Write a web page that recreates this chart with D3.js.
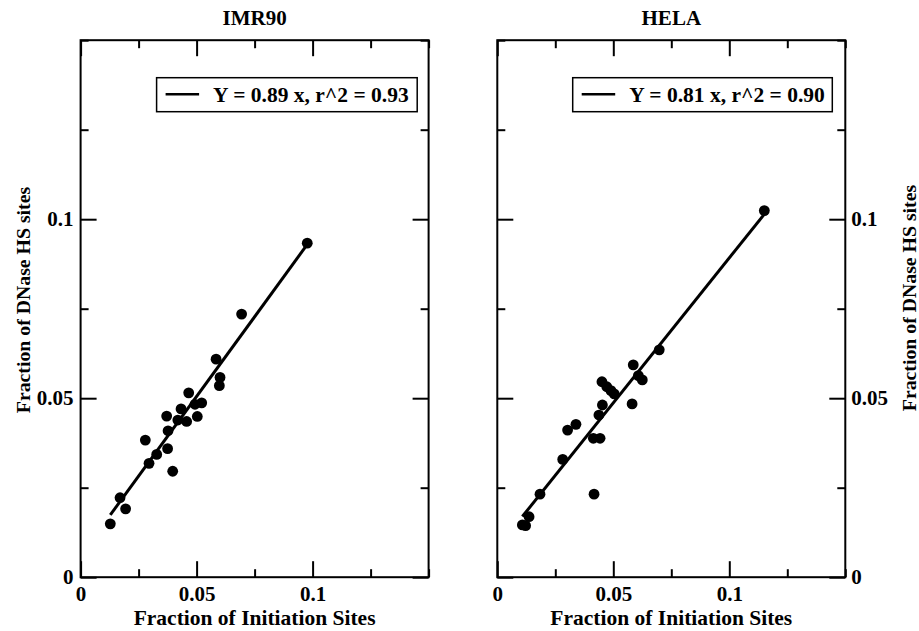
<!DOCTYPE html>
<html>
<head>
<meta charset="utf-8">
<script src="https://cdn.jsdelivr.net/npm/d3@7"></script>
<style>
  html, body { margin: 0; padding: 0; background: #fff; }
  svg text { font-family: "Liberation Serif", "Times New Roman", serif; font-weight: bold; fill: #000; }
</style>
</head>
<body>
<svg id="chart" width="919" height="631"></svg>
<script>
// IMR90: fraction of initiation sites (x) vs fraction of DNase HS sites (y)
const imrX = [0.0694, 0.0584, 0.0601, 0.0598, 0.0466, 0.0522, 0.0493, 0.0433, 0.0371, 0.0503, 0.0419,
              0.0457, 0.0377, 0.0279, 0.0375, 0.0328, 0.0295, 0.0397, 0.0170, 0.0194, 0.0128, 0.0977];
const imrY = [0.0735, 0.0609, 0.0558, 0.0535, 0.0515, 0.0487, 0.0483, 0.0470, 0.0450, 0.0449, 0.0439,
              0.0435, 0.0409, 0.0383, 0.0359, 0.0343, 0.0318, 0.0296, 0.0222, 0.0191, 0.0149, 0.0933];
const imrSlope = 0.89, imrIntercept = 0.006, imrR2 = 0.93;

// HELA
const helaX = [0.1151, 0.0698, 0.0586, 0.0625, 0.0608, 0.0451, 0.0472, 0.0490, 0.0504, 0.0581, 0.0453,
               0.0438, 0.0339, 0.0303, 0.0414, 0.0443, 0.0282, 0.0184, 0.0417, 0.0137, 0.0108, 0.0122];
const helaY = [0.1024, 0.0635, 0.0593, 0.0551, 0.0563, 0.0546, 0.0532, 0.0521, 0.0512, 0.0484, 0.0481,
               0.0453, 0.0427, 0.0411, 0.0388, 0.0388, 0.0329, 0.0232, 0.0232, 0.0169, 0.0146, 0.0144];
const helaSlope = 0.81, helaIntercept = 0.0082, helaR2 = 0.90;

const panelTitles = ["IMR90", "HELA"];
const xTitle = "Fraction of Initiation Sites";
const yTitle = "Fraction of DNase HS sites";
const tickValues = [0, 0.025, 0.05, 0.075, 0.1, 0.125, 0.15];
const majorTicks = [0, 0.05, 0.1];
const tickLabels = ["0", "0.05", "0.1"];

const svg = d3.select("#chart");
const W = 348, H = 537;

const panels = [
  { left: 80.6, top: 40.2, title: panelTitles[0], xs: imrX, ys: imrY, slope: imrSlope, b: imrIntercept, r2: imrR2,
    yLabelsRight: false, legendX: 76, legendW: 260.6, yTitleX: 30, yTitleY: 300 },
  { left: 497.3, top: 40.2, title: panelTitles[1], xs: helaX, ys: helaY, slope: helaSlope, b: helaIntercept, r2: helaR2,
    yLabelsRight: true, legendX: 75.4, legendW: 259.6, yTitleX: 916, yTitleY: 298 }
];

const isMajor = v => majorTicks.some(m => Math.abs(m - v) < 1e-9);
const fmt = v => { const i = majorTicks.findIndex(m => Math.abs(m - v) < 1e-9); return i >= 0 ? tickLabels[i] : ""; };

panels.forEach(p => {
  const g = svg.append("g").attr("transform", `translate(${p.left},${p.top})`);
  const x = d3.scaleLinear().domain([0, 0.15]).range([0, W]);
  const y = d3.scaleLinear().domain([0, 0.15]).range([H, 0]);

  // inward ticks on all four sides, labels on bottom and one vertical side
  const styleAxis = (sel, labelSize) => {
    sel.select(".domain").remove();
    sel.selectAll(".tick line")
      .attr("stroke", "#000").attr("stroke-width", 2);
    sel.selectAll(".tick text").style("font-size", labelSize + "px");
  };
  const setLen = (sel, attr, sign) => sel.selectAll(".tick line")
      .attr(attr, d => sign * (isMajor(d) ? 16 : 8));

  const bottom = g.append("g").attr("transform", `translate(0,${H})`)
    .call(d3.axisBottom(x).tickValues(tickValues).tickFormat(fmt).tickSize(-16).tickPadding(9));
  styleAxis(bottom, 21); setLen(bottom, "y2", -1);

  const top = g.append("g")
    .call(d3.axisTop(x).tickValues(tickValues).tickFormat("").tickSize(-16));
  styleAxis(top, 21); setLen(top, "y2", 1);

  const leftAx = g.append("g")
    .call(d3.axisLeft(y).tickValues(tickValues).tickFormat(p.yLabelsRight ? "" : fmt).tickSize(-16).tickPadding(7));
  styleAxis(leftAx, 21); setLen(leftAx, "x2", 1);

  const rightAx = g.append("g").attr("transform", `translate(${W},0)`)
    .call(d3.axisRight(y).tickValues(tickValues).tickFormat(p.yLabelsRight ? fmt : "").tickSize(-16).tickPadding(6));
  styleAxis(rightAx, 21); setLen(rightAx, "x2", -1);

  // frame
  g.append("rect").attr("x", 0).attr("y", 0).attr("width", W).attr("height", H)
    .attr("fill", "none").attr("stroke", "#000").attr("stroke-width", 2);

  // points
  const pts = p.xs.map((v, i) => [v, p.ys[i]]);
  g.append("g").selectAll("circle").data(pts).join("circle")
    .attr("cx", d => x(d[0])).attr("cy", d => y(d[1])).attr("r", 5.4).attr("fill", "#000");

  // regression line over the range of the data
  const [x0, x1] = d3.extent(p.xs);
  g.append("line")
    .attr("x1", x(x0)).attr("y1", y(p.b + p.slope * x0))
    .attr("x2", x(x1)).attr("y2", y(p.b + p.slope * x1))
    .attr("stroke", "#000").attr("stroke-width", 3);

  // legend
  const lg = g.append("g").attr("transform", `translate(${p.legendX},37.5)`);
  lg.append("rect").attr("width", p.legendW).attr("height", 34)
    .attr("fill", "#fff").attr("stroke", "#000").attr("stroke-width", 1.5);
  lg.append("line").attr("x1", 9).attr("x2", 42.5).attr("y1", 16.6).attr("y2", 16.6)
    .attr("stroke", "#000").attr("stroke-width", 2.5);
  lg.append("text").attr("x", 56.5).attr("y", 24)
    .style("font-size", "21.5px")
    .text(`Y = ${p.slope.toFixed(2)} x, r^2 = ${p.r2.toFixed(2)}`);

  // titles
  g.append("text").attr("x", W / 2).attr("y", -15).attr("text-anchor", "middle")
    .style("font-size", "21px").text(p.title);
  g.append("text").attr("x", W / 2).attr("y", H + 47.8).attr("text-anchor", "middle")
    .style("font-size", "21.5px").text(xTitle);
  g.append("text")
    .attr("transform", `translate(${p.yTitleX - p.left},${p.yTitleY - p.top}) rotate(-90)`)
    .attr("text-anchor", "middle")
    .style("font-size", "19.8px").text(yTitle);
});
</script>
</body>
</html>
